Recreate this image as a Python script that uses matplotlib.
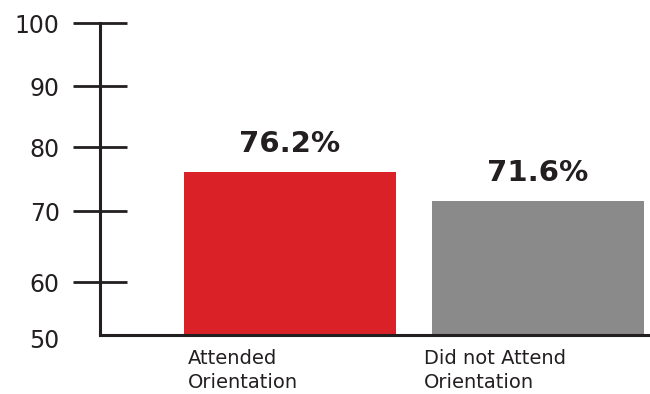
import numpy as np
from matplotlib import pyplot as plt
from matplotlib.transforms import ScaledTranslation

groups = ['Attended\nOrientation', 'Did not Attend\nOrientation']
rates = [76.2, 71.6]
bar_colors = ['#DA2128', '#8A8A8A']
yticks = [50, 60, 70, 80, 90, 100]
# the original axis has uneven tick spacing, kept via a piecewise scale
tick_pix = np.array([335, 282.3, 211.3, 147.3, 86.3, 23.3])

def fwd(v):
    return np.interp(v, yticks, -tick_pix)

def inv(p):
    return np.interp(p, -tick_pix, yticks)

ink = '#231F20'
plt.rcParams['font.family'] = ['DejaVu Sans']

fig = plt.figure(figsize=(6.5, 3.94), dpi=100)
ax = fig.add_axes([100/650, 1-335/394, 550/650, (335-23.3)/394])
ax.set_yscale('function', functions=(fwd, inv))

x = np.arange(len(rates))
ax.bar(x, rates, width=0.855, color=bar_colors)
ax.set_ylim(50, 100)
ax.set_xlim(-0.766, 1.452)

for xi, r in zip(x, rates):
    ax.annotate(f'{r}%', (xi, r), xytext=(0, 10), textcoords='offset points',
                ha='center', va='bottom', fontsize=21, fontweight='bold', color=ink)

ax.set_yticks(yticks)
ax.set_yticklabels([str(t) for t in yticks], fontsize=17, color=ink)
ax.tick_params(axis='y', direction='inout', length=39, width=2, color=ink, pad=9.5)
t50 = ax.yaxis.get_major_ticks()[0]
t50.tick1line.set_visible(False)
t50.label1.set_transform(t50.label1.get_transform()
                         + ScaledTranslation(0, -3/100, fig.dpi_scale_trans))

ax.set_xticks(x + np.array([-0.41, -0.46]))
ax.set_xticklabels(groups, fontsize=14, color=ink, ha='left', linespacing=1.35)
ax.tick_params(axis='x', length=0, pad=10)

for s in ['top', 'right']:
    ax.spines[s].set_visible(False)
for s in ['left', 'bottom']:
    ax.spines[s].set_linewidth(2.2)
    ax.spines[s].set_color(ink)

fig.savefig('out.png', dpi=100)
